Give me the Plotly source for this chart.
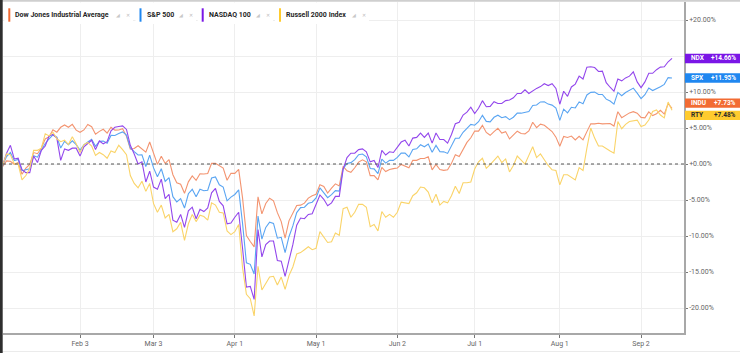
import pandas as pd
import plotly.graph_objects as go

# ---------------- data (YTD % change, base = 2024-12-31 close) ----------------
holidays = ["2025-01-01", "2025-01-09", "2025-01-20", "2025-02-17", "2025-04-18",
            "2025-05-26", "2025-06-19", "2025-07-04", "2025-09-01"]
dates = [d for d in pd.bdate_range("2024-12-31", "2025-09-12")
         if d.strftime("%Y-%m-%d") not in holidays]

dow = [0,
       -0.36, 0.44, 0.38, -0.04, 0.21, -1.42, -0.58, -0.06, 1.59, 1.43, 2.22, 3.48, 3.79, 4.75, 4.42, 5.10, 5.42, 5.10, 5.50, 4.70,
       4.41, 4.73, 5.48, 5.18, 4.13, 4.53, 4.82, 4.29, 5.10, 4.71, 4.73, 4.90, 3.84, 2.08, 2.16, 2.53, 2.09, 1.64, 3.05,
       1.52, -0.05, 1.09, 0.08, 0.61, -1.49, -2.61, -2.80, -4.07, -2.48, -1.65, -2.26, -1.36, -1.39, -1.31, 0.09, 0.10, -0.21, -0.57, -2.26, -1.28,
       -1.30, -0.75, -4.70, -9.94, -10.76, -11.51, -4.55, -6.93, -5.48, -4.75, -5.11, -6.76, -8.00, -10.28, -7.89, -6.90, -5.76, -5.71, -5.44, -4.74, -4.40,
       -4.21, -2.88, -3.12, -4.03, -3.36, -2.76, -3.04, -0.32, -0.95, -1.16, -0.52, 0.26, 0.58, 0.31, -1.61, -1.61, -2.21, -0.47, -1.05, -0.77, -0.64,
       -0.56, -0.06, -0.27, -0.53, 0.51, 0.51, 0.76, 0.76, 1.00, -0.81, -0.07, -0.77, -0.88, -0.79, 0.09, 1.28, 1.03, 1.98, 3.00, 3.65,
       4.59, 4.56, 5.37, 4.38, 3.99, 4.50, 4.95, 4.30, 4.50, 3.48, 4.02, 4.56, 4.23, 4.18, 4.60, 5.80, 5.05, 5.54, 5.39, 4.91, 4.51, 3.73,
       2.46, 3.83, 3.68, 3.88, 3.35, 3.84, 3.36, 4.50, 5.59, 5.57, 5.65, 5.57, 5.59, 5.63, 5.27, 7.26, 6.44, 6.76, 7.10, 7.27, 7.05,
       6.47, 6.41, 7.23, 6.72, 6.98, 7.45, 6.93, 8.38, 7.73]

spx = [0,
       -0.22, 1.03, 1.59, 0.47, 0.62, -0.93, -0.77, -0.66, 1.16, 0.95, 1.96, 2.85, 3.48, 4.03, 3.73, 2.22, 3.16, 2.68, 3.22, 2.70,
       1.92, 2.66, 3.06, 3.43, 2.45, 3.14, 3.18, 2.90, 3.97, 3.96, 4.22, 4.46, 4.01, 2.24, 1.73, 1.25, 1.27, -0.34, 1.24,
       -0.54, -1.76, -0.66, -2.43, -1.89, -4.54, -5.26, -4.80, -6.12, -4.13, -3.51, -4.54, -3.51, -3.72, -3.64, -1.94, -1.79, -2.88, -3.20, -5.11, -4.59,
       -4.23, -3.58, -8.25, -13.73, -13.93, -15.28, -7.22, -10.43, -8.81, -8.09, -8.25, -10.30, -10.18, -12.30, -10.10, -8.60, -6.75, -6.06, -6.00, -5.45, -5.31,
       -4.72, -3.31, -3.93, -4.67, -4.26, -3.70, -3.77, -0.64, 0.08, 0.19, 0.60, 1.30, 1.39, 1.00, -0.63, -0.67, -1.34, 0.68, 0.12, 0.52, 0.51,
       0.92, 1.51, 1.52, 0.98, 2.02, 2.11, 2.67, 2.39, 2.78, 1.62, 2.58, 1.72, 1.69, 1.47, 2.44, 3.58, 3.58, 4.41, 4.96, 5.50,
       5.38, 5.88, 6.76, 5.92, 5.85, 6.49, 6.78, 6.43, 6.58, 6.16, 6.50, 7.07, 7.06, 7.21, 7.28, 8.12, 8.19, 8.62, 8.64, 8.32, 8.18, 7.78,
       6.06, 7.62, 7.10, 7.88, 7.79, 8.63, 8.36, 9.59, 9.95, 9.98, 9.66, 9.65, 9.01, 8.74, 8.31, 9.95, 9.48, 9.93, 10.20, 10.54, 9.84,
       9.08, 9.63, 10.55, 10.20, 10.43, 10.73, 11.06, 12.00, 11.95]

ndx = [0,
       -0.2, 1.5, 2.6, 0.7, 0.8, -0.8, -1.2, -1.2, 1.1, 0.2, 1.9, 2.5, 3.9, 4.1, 3.6, 0.5, 2.1, 1.9, 2.2, 2.2,
       1.1, 2.4, 2.8, 3.3, 2.0, 3.2, 2.8, 3.1, 4.6, 5.1, 5.2, 5.3, 4.8, 2.6, 1.4, 0.0, 0.3, -2.5, -1.0,
       -3.2, -3.5, -2.1, -4.8, -4.2, -7.8, -8.1, -7.0, -8.8, -6.5, -6.0, -7.6, -6.3, -6.6, -6.1, -4.0, -3.4, -5.2, -5.8, -8.3, -8.2,
       -7.4, -6.7, -11.7, -17.1, -17.0, -18.8, -9.1, -12.9, -11.2, -10.7, -10.7, -13.4, -13.5, -15.6, -13.4, -11.2, -8.5, -7.5, -7.6, -7.0, -6.9,
       -5.5, -4.3, -4.9, -5.8, -5.4, -4.5, -4.5, -0.7, 0.9, 1.5, 1.5, 2.0, 2.1, 1.7, 0.3, 0.5, -0.5, 1.9, 1.25, 1.7, 1.6,
       2.3, 3.05, 3.3, 2.5, 3.6, 3.7, 4.3, 3.7, 4.3, 2.9, 4.3, 3.4, 3.4, 2.9, 4.1, 5.6, 5.8, 6.8, 7.2, 7.9,
       7.0, 7.75, 8.8, 7.95, 8.0, 8.65, 8.4, 8.4, 8.8, 8.9, 9.2, 9.8, 9.8, 10.3, 9.8, 10.2, 10.5, 10.75, 11.15, 10.9, 11.15, 10.5,
       8.3, 10.1, 9.4, 10.7, 11.1, 12.2, 11.8, 13.45, 13.5, 13.4, 12.85, 12.9, 11.3, 10.66, 10.1, 11.8, 11.55, 11.96, 12.2, 12.8, 11.4,
       10.6, 11.4, 12.6, 12.6, 13.1, 13.45, 13.5, 14.2, 14.66]

rty = [0,
       -0.2, 1.4, 1.3, 0.0, 0.0, -2.2, -1.6, -0.6, 1.9, 1.9, 2.2, 4.2, 3.9, 4.4, 3.5, 3.1, 3.3, 2.7, 3.8, 2.8,
       1.6, 2.7, 3.0, 2.5, 1.2, 1.6, 1.3, 0.8, 1.8, 1.6, 2.6, 2.0, 1.3, -1.6, -2.7, -3.3, -2.4, -3.8, -2.7,
       -5.5, -6.7, -5.7, -7.5, -7.0, -9.4, -9.0, -8.1, -10.6, -8.3, -7.0, -8.0, -7.1, -7.3, -7.8, -5.4, -5.7, -6.7, -6.8, -9.3, -9.8,
       -9.4, -8.4, -14.4, -18.1, -18.7, -21.1, -14.2, -17.5, -16.6, -15.7, -15.6, -16.8, -15.7, -17.4, -15.5, -14.3, -12.5, -12.3, -11.9, -11.5, -11.9,
       -11.7, -9.4, -10.1, -10.9, -10.8, -9.6, -9.9, -6.2, -6.0, -7.4, -6.7, -5.6, -5.6, -6.0, -8.7, -8.4, -9.3, -6.6, -7.4, -7.0, -7.4,
       -6.7, -5.3, -5.4, -5.5, -4.4, -4.0, -3.2, -3.3, -3.9, -5.4, -4.2, -5.7, -5.2, -5.4, -4.4, -3.1, -4.1, -2.6, -2.6, -2.5,
       -0.7, 0.3, 0.8, -0.6, -0.1, 0.5, 1.1, 0.2, 0.7, -1.1, -0.2, 1.1, 0.5, 0.0, 1.2, 2.4, 0.9, 1.4, 0.6, -0.2, -0.8, -0.9,
       -2.9, -1.5, -1.5, -1.9, -2.2, -0.5, -0.9, 2.2, 5.0, 3.6, 2.5, 2.5, 2.1, 1.8, 1.5, 5.9, 4.9, 5.5, 5.9, 6.0, 6.1,
       5.2, 5.4, 6.1, 7.3, 7.5, 6.8, 6.4, 8.6, 7.48]

series_names = ["Dow Jones Industrial Average", "S&P 500", "NASDAQ 100", "Russell 2000 Index"]
series_codes = ["INDU", "SPX", "NDX", "RTY"]
series_values = [dow, spx, ndx, rty]
line_colors = ["#F39470", "#5AA5F2", "#9347EC", "#FAD469"]
badge_colors = ["#F26B33", "#1F87F0", "#7A16E6", "#FFCB2E"]
badge_text_colors = ["#FFFFFF", "#FFFFFF", "#FFFFFF", "#2A2A2A"]

tick_dates = ["2025-02-03", "2025-03-03", "2025-04-01", "2025-05-01",
              "2025-06-02", "2025-07-01", "2025-08-01", "2025-09-02"]
tick_labels = ["Feb 3", "Mar 3", "Apr 1", "May 1", "Jun 2", "Jul 1", "Aug 1", "Sep 2"]
y_ticks = [20, 15, 10, 5, 0, -5, -10, -15, -20]
# the +15% label is hidden behind the NDX badge in the reference
y_tick_labels = ["+20.00%", "", "+10.00%", "+5.00%", "+0.00%",
                 "-5.00%", "-10.00%", "-15.00%", "-20.00%"]

for s in series_values:
    assert len(s) == len(dates), (len(s), len(dates))

idx = list(range(len(dates)))
date_str = [d.strftime("%Y-%m-%d") for d in dates]
tick_pos = [date_str.index(t) for t in tick_dates]

# ---------------- layout geometry ----------------
W, H = 740, 353
ML, MR, MT, MB = 3, 56, 2, 20
PW, PH = W - ML - MR, H - MT - MB
FONT = "Roboto, Inter, Arial"


def px_x(px):
    return (px - ML) / PW


def px_y(py):
    return (H - MB - py) / PH


fig = go.Figure()
for name, vals, col in zip(series_names, series_values, line_colors):
    fig.add_trace(go.Scatter(x=idx, y=vals, mode="lines", name=name,
                             line=dict(color=col, width=1.1), hoverinfo="skip",
                             showlegend=False))

shapes = []
annotations = []

# zero dotted line
shapes.append(dict(type="line", xref="paper", yref="y", x0=0, x1=1, y0=0, y1=0,
                   line=dict(color="#555555", width=1, dash="dot"), layer="above"))

# frame bits
shapes.append(dict(type="line", xref="paper", yref="paper", x0=px_x(0), x1=px_x(W),
                   y0=px_y(0.8), y1=px_y(0.8), line=dict(color="#CFCFCF", width=2)))
shapes.append(dict(type="line", xref="paper", yref="paper", x0=px_x(0), x1=px_x(W),
                   y0=px_y(351.5), y1=px_y(351.5), line=dict(color="#EBEBEB", width=1)))
shapes.append(dict(type="rect", xref="paper", yref="paper", x0=px_x(0), x1=px_x(2.7),
                   y0=px_y(H), y1=px_y(0), fillcolor="#2E2E2E", line=dict(width=0)))

# legend chips
chip_x = [8.3, 139.5, 201.7, 279.0]
chip_end = [133, 196, 273, 369]
for i, name in enumerate(series_names):
    x0 = chip_x[i]
    shapes.append(dict(type="rect", xref="paper", yref="paper",
                       x0=px_x(x0 - 4), x1=px_x(chip_end[i]), y0=px_y(24), y1=px_y(2.5),
                       fillcolor="white", line=dict(width=0), layer="above"))
    shapes.append(dict(type="rect", xref="paper", yref="paper",
                       x0=px_x(x0), x1=px_x(x0 + 2), y0=px_y(21.7), y1=px_y(8.3),
                       fillcolor=badge_colors[i], line=dict(width=0), layer="above"))
    annotations.append(dict(xref="paper", yref="paper", x=px_x(x0 + 5), y=px_y(15),
                            text="<b>" + name + "</b>", showarrow=False, xanchor="left",
                            yanchor="middle", font=dict(family=FONT, size=7, color="#262626")))
    annotations.append(dict(xref="paper", yref="paper", x=px_x(chip_end[i] - 19), y=px_y(15),
                            text="◢", showarrow=False, xanchor="left", yanchor="middle",
                            font=dict(family="DejaVu Sans", size=5, color="#C8C8C8")))
    annotations.append(dict(xref="paper", yref="paper", x=px_x(chip_end[i] - 9), y=px_y(15),
                            text="✕", showarrow=False, xanchor="left", yanchor="middle",
                            font=dict(family="DejaVu Sans", size=5, color="#BDBDBD")))

# value badges on the right, with simple collision avoidance
last_vals = [v[-1] for v in series_values]
order = sorted(range(4), key=lambda k: -last_vals[k])
min_gap = 1.7
pos = {k: last_vals[k] for k in order}
for a, b in zip(order[:-1], order[1:]):
    if pos[a] - pos[b] < min_gap:
        mid = (pos[a] + pos[b]) / 2
        pos[a], pos[b] = mid + min_gap / 2, mid - min_gap / 2
half = 0.65
for k in range(4):
    yc = pos[k]
    shapes.append(dict(type="rect", xref="paper", yref="y", x0=px_x(685), x1=px_x(741),
                       y0=yc - half, y1=yc + half, fillcolor=badge_colors[k],
                       line=dict(width=0), layer="above"))
    annotations.append(dict(xref="paper", yref="y", x=px_x(688.5), y=yc, text="<b>" + series_codes[k] + "</b>",
                            showarrow=False, xanchor="left", yanchor="middle",
                            font=dict(family=FONT, size=6.5, color=badge_text_colors[k])))
    annotations.append(dict(xref="paper", yref="y", x=px_x(738), y=yc,
                            text="<b>%+.2f%%</b>" % last_vals[k],
                            showarrow=False, xanchor="right", yanchor="middle",
                            font=dict(family=FONT, size=6.5, color=badge_text_colors[k])))

y_top = 22.5
y_bot = -23.47
x_left = 1.086
x_right = 177.1

fig.update_layout(
    width=W, height=H,
    margin=dict(l=ML, r=MR, t=MT, b=MB),
    paper_bgcolor="white", plot_bgcolor="white",
    shapes=shapes, annotations=annotations,
    xaxis=dict(range=[x_left, x_right], tickmode="array", tickvals=tick_pos, ticktext=tick_labels,
               showgrid=True, gridcolor="#EEEEEE", gridwidth=1, zeroline=False,
               showline=True, linecolor="#A8A8A8", linewidth=1.5,
               ticks="outside", ticklen=3, tickcolor="#777777", tickwidth=1,
               tickfont=dict(family=FONT, size=7, color="#666666"), fixedrange=True),
    yaxis=dict(range=[y_bot, y_top], side="right", tickmode="array", tickvals=y_ticks,
               ticktext=y_tick_labels, showgrid=True, gridcolor="#EEEEEE", gridwidth=1,
               zeroline=False, showline=True, linecolor="#A8A8A8", linewidth=1.5,
               ticks="outside", ticklen=2, tickcolor="#777777", tickwidth=1,
               tickfont=dict(family=FONT, size=7, color="#666666"), fixedrange=True),
    showlegend=False,
)

fig.write_html("out.html", config={"displayModeBar": False})
